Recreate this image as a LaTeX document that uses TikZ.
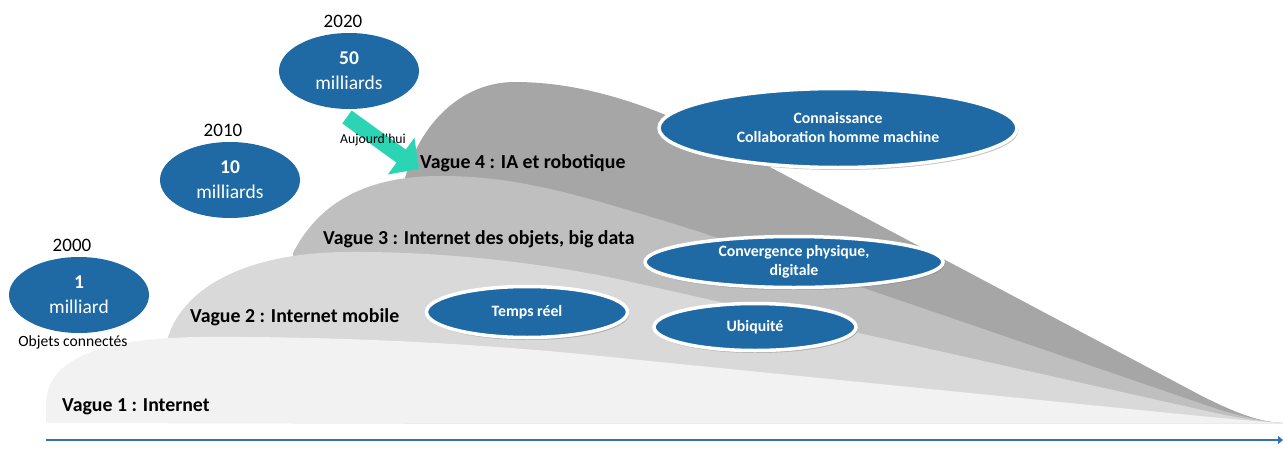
\documentclass[tikz,border=0pt]{standalone}
\usepackage{fontspec}
\setmainfont{Carlito}
\usetikzlibrary{shapes.geometric,arrows.meta,shadows,positioning}
\definecolor{bubbleblue}{HTML}{1F6AA5}
\definecolor{waveA}{HTML}{F2F2F2}
\definecolor{waveB}{HTML}{D9D9D9}
\definecolor{waveC}{HTML}{BFBFBF}
\definecolor{waveD}{HTML}{A6A6A6}
\definecolor{nowteal}{HTML}{2BD5B3}
\definecolor{axisblue}{HTML}{2E74B5}
\tikzset{%
  yearbubble/.style={ellipse, fill=bubbleblue, text=white, inner sep=0pt, align=center,
    minimum width=140pt, minimum height=76pt, font=\fontsize{19.5}{25}\selectfont},
  keybubble/.style={ellipse, fill=bubbleblue, draw=white, line width=3.5pt, text=white,
    inner sep=0pt, align=center, font=\bfseries\fontsize{15.8}{19}\selectfont,
    drop shadow={opacity=.45, shadow xshift=1.5pt, shadow yshift=-2.5pt}},
  wavelabel/.style={anchor=west, inner sep=0pt, font=\bfseries\fontsize{19.8}{24}\selectfont},
  yearlabel/.style={inner sep=0pt, font=\fontsize{19}{23}\selectfont}
}

\begin{document}
\begin{tikzpicture}[x=1pt, y=-1pt]
    \useasboundingbox (0,0) rectangle (1283,450);
    % waves, back to front
    \fill[waveD] (405,423) -- (405,178) .. controls (420,125) and (460,82) .. (515,82)
      .. controls (570,82) and (630,97) .. (700,130) -- (1200,395)
      .. controls (1245,418) and (1265,422) .. (1283,423) -- cycle;
    \fill[waveC] (293,423) -- (293,253) .. controls (320,200) and (370,176) .. (440,176)
      .. controls (520,176) and (580,195) .. (700,232) -- (1220,410)
      .. controls (1255,420) and (1270,422) .. (1283,423) -- cycle;
    \fill[waveB] (168,423) -- (168,337) .. controls (185,285) and (250,253) .. (345,252)
      .. controls (450,251) and (560,265) .. (640,284) -- (1220,414)
      .. controls (1255,421) and (1270,422) .. (1283,423) -- cycle;
    \fill[waveA] (46,423) -- (46,405) .. controls (46,355) and (110,338) .. (200,337)
      .. controls (350,336) and (500,345) .. (620,358) -- (1180,414)
      .. controls (1240,420) and (1265,422) .. (1283,423) -- cycle;

    \node[wavelabel] (v1) at (62,407) {Vague 1 : Internet};
    \node[wavelabel] (v2) at (190,317) {Vague 2 : Internet mobile};
    \node[wavelabel] (v3) at (323,239) {Vague 3 : Internet des objets, big data};
    \node[wavelabel] (v4) at (420,163) {Vague 4 : IA et robotique};

    % objets connectes
    \node[yearbubble] (e2000) at (79,295) {\textbf{1}\\milliard};
    \node[yearbubble] (e2010) at (230,180) {\textbf{10}\\milliards};
    \node[yearbubble] (e2020) at (349,71) {\textbf{50}\\milliards};
    \node[yearlabel, above=5pt of e2000, xshift=-7pt] (y2000) {2000};
    \node[yearlabel, above=5pt of e2010, xshift=-7pt] (y2010) {2010};
    \node[yearlabel, above=5pt of e2020, xshift=-6pt] (y2020) {2020};
    \node[inner sep=0pt, font=\fontsize{15.6}{19}\selectfont] (objets) at (73,342) {Objets connectés};

    \node[keybubble, minimum width=358pt, minimum height=79pt] (know) at (838,128) {Connaissance\\Collaboration homme machine};
    \node[keybubble, minimum width=298pt, minimum height=51pt] (conv) at (794,262) {Convergence physique,\\digitale};
    \node[keybubble, minimum width=202pt, minimum height=47pt] (ubiq) at (755,327) {Ubiquité};
    \node[keybubble, minimum width=201pt, minimum height=51pt] (rt) at (527,312) {Temps réel};

    % aujourd'hui
    \coordinate (now tail) at (347,117);
    \coordinate (now tip) at (419,169);
    \draw[nowteal, line width=16pt, -{Triangle[length=22pt, width=44pt]}] (now tail) -- (now tip);
    \node[inner sep=0pt, font=\fontsize{13.7}{16}\selectfont] (today) at (373,140) {Aujourd’hui};

    % axe du temps
    \coordinate (t0) at (46,440);
    \coordinate (t1) at (1283,440);
    \draw[axisblue, line width=2pt, -{Triangle[length=5pt, width=8pt]}] (t0) -- (t1);
\end{tikzpicture}
\end{document}
